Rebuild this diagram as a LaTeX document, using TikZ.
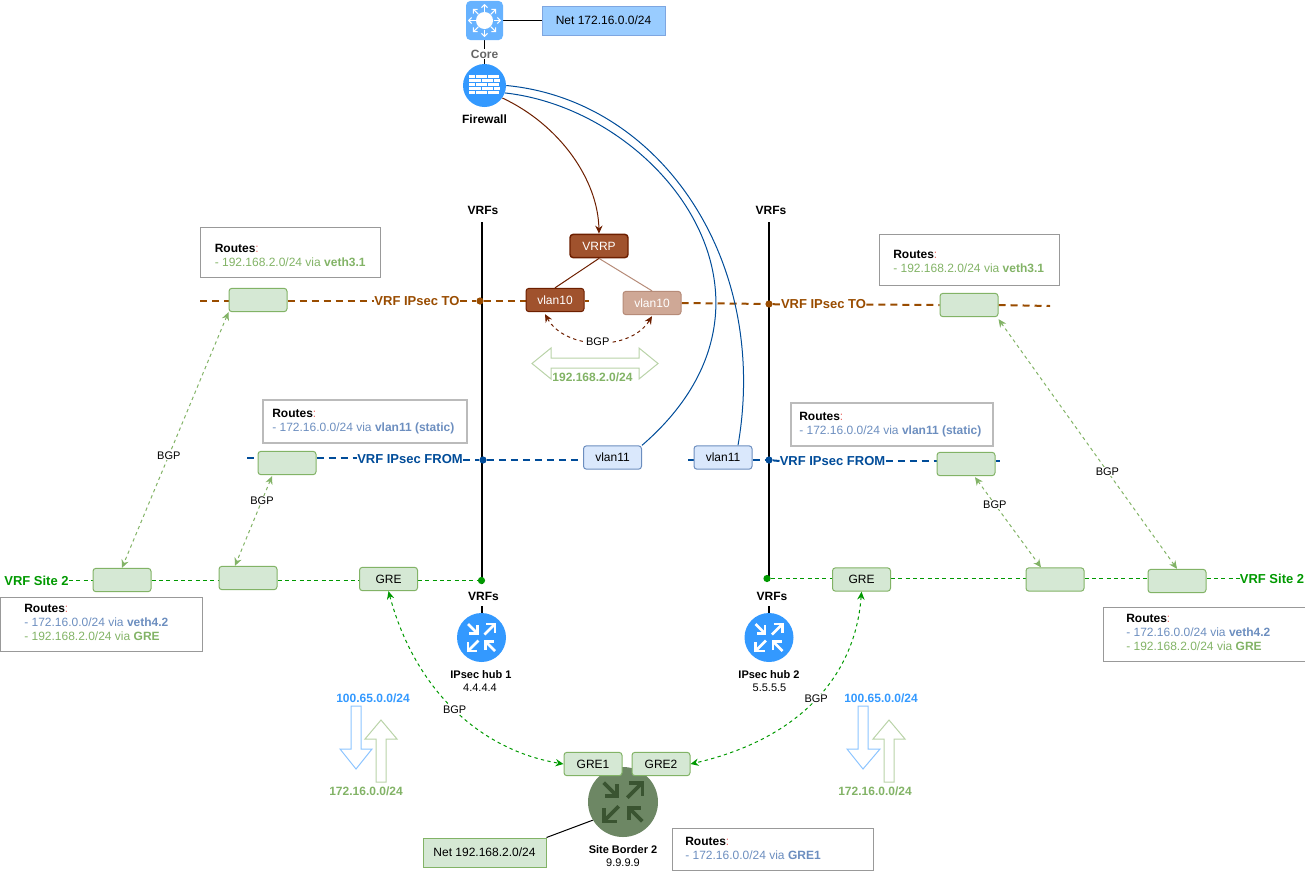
\documentclass[tikz,border=0pt]{standalone}
\usepackage{fontspec}
\setmainfont{Liberation Sans}
\usetikzlibrary{backgrounds,calc,arrows.meta}
\definecolor{gfill}{HTML}{D5E8D4}
\definecolor{gline}{HTML}{82B366}
\definecolor{dgreen}{HTML}{009900}
\definecolor{bline}{HTML}{004C99}
\definecolor{brline}{HTML}{994C00}
\definecolor{vfill}{HTML}{A0522D}
\definecolor{vline}{HTML}{6D1F00}
\definecolor{vlfill}{HTML}{CFA896}
\definecolor{vlline}{HTML}{B68B78}
\definecolor{bfill}{HTML}{DAE8FC}
\definecolor{bstroke}{HTML}{6C8EBF}
\definecolor{hubblue}{HTML}{3399FF}
\definecolor{sitefill}{HTML}{6D8764}
\definecolor{siteicon}{HTML}{3A5431}
\definecolor{netblue}{HTML}{99CCFF}
\definecolor{netline}{HTML}{7EA6E0}
\definecolor{corefill}{HTML}{66B2FF}
\definecolor{rtgray}{HTML}{999999}
\definecolor{rtlight}{HTML}{BBBBBB}
\definecolor{colonred}{HTML}{EA6B66}
\definecolor{greyt}{HTML}{666666}
\definecolor{arrowgreen}{HTML}{B9D3A8}
\definecolor{arrowblue}{HTML}{8CC4FF}
\newcommand{\fntA}{\fontsize{9}{10.5}\selectfont}
\newcommand{\fntB}{\fontsize{8.25}{9.75}\selectfont}
\newcommand{\fntC}{\fontsize{9.75}{11}\selectfont\bfseries}
\newcommand{\routericon}[4]{%
\begin{scope}[shift={(#1,#2)},scale=#3,line width=#3*1.9pt,#4,line cap=butt,line join=miter]
 \draw (-13.5,-13.5) -- (-4.5,-4.5); \draw (-4,-12.5) -- (-4,-4) -- (-12.5,-4);
 \draw (3,-3) -- (12.5,-12.5); \draw (4.5,-13.5) -- (13.5,-13.5) -- (13.5,-4.5);
 \draw (-3,3) -- (-12.5,12.5); \draw (-13.5,4.5) -- (-13.5,13.5) -- (-4.5,13.5);
 \draw (13.5,13.5) -- (4.5,4.5); \draw (4,12.5) -- (4,4) -- (12.5,4);
\end{scope}}
\newcommand{\RT}[1]{\textbf{\textcolor{black}{Routes}}\textcolor{colonred}{:}\\#1}
\newcommand{\BL}[1]{\textcolor{bstroke}{#1}}
\newcommand{\GL}[1]{\textcolor{gline}{#1}}
\tikzset{
 every node/.style={font=\fntA,text=black},
 gbox/.style={draw=gline,fill=gfill,line width=.75pt,rounded corners=2.2pt,minimum width=43.5pt,minimum height=17.5pt,inner sep=0pt},
 vbox/.style={draw=bstroke,fill=bfill,line width=.75pt,rounded corners=2.2pt,minimum width=43.5pt,minimum height=17.5pt,inner sep=0pt},
 brbox/.style={draw=vline,fill=vfill,text=white,line width=.75pt,rounded corners=2.2pt,minimum width=43.5pt,minimum height=17.5pt,inner sep=0pt},
 brlight/.style={draw=vlline,fill=vlfill,text=white,line width=.75pt,rounded corners=2.2pt,minimum width=43.5pt,minimum height=17.5pt,inner sep=0pt},
 rtbox/.style={draw=rtgray,line width=.75pt,inner sep=0pt},
 rtboxb/.style={draw=rtlight,line width=1.5pt,inner sep=0pt},
 rttext/.style={anchor=west,align=left,inner sep=0pt},
 vrfto/.style={font=\fntC,text=brline,fill=white,inner sep=0pt},
 vrffrom/.style={font=\fntC,text=bline,fill=white,inner sep=0pt},
 vrfsite/.style={font=\fntC,text=dgreen,fill=white,inner sep=0pt},
 boldlab/.style={font=\fntA\bfseries,inner sep=0pt},
 small/.style={font=\fntB,inner sep=0pt},
 smallb/.style={font=\fntB\bfseries,inner sep=0pt},
 dot/.style={circle,inner sep=0pt,minimum size=5.4pt},
 toline/.style={draw=brline,line width=1.5pt,dash pattern=on 5.25pt off 3.75pt},
 fromline/.style={draw=bline,line width=1.5pt,dash pattern=on 5.25pt off 3.75pt},
 siteline/.style={draw=dgreen,line width=.75pt,dash pattern=on 3pt off 2.5pt},
 bgplight/.style={draw=gline,line width=.75pt,dash pattern=on 2.5pt off 2.5pt,{Stealth[length=6pt,width=5.5pt,gline]}-{Stealth[length=6pt,width=5.5pt,gline]}},
 bgpdark/.style={draw=dgreen,line width=.75pt,dash pattern=on 2.5pt off 2.5pt,{Stealth[length=6pt,width=5.5pt,dgreen]}-{Stealth[length=6pt,width=5.5pt,dgreen]}},
 bgpbrown/.style={draw=vline,line width=.75pt,dash pattern=on 2.5pt off 2.5pt,{Stealth[length=6pt,width=5.5pt,vline]}-{Stealth[length=6pt,width=5.5pt,vline]}},
 bgplab/.style={font=\fntB,fill=white,inner sep=.6pt},
 vrfbar/.style={draw=black,line width=1.5pt},
 blockg/.style={draw=arrowgreen,line width=.75pt},
 blockb/.style={draw=arrowblue,line width=.75pt},
}
\begin{document}
\begin{tikzpicture}[x=0.75pt,y=-0.75pt]
\useasboundingbox (0,0) rectangle (1305,893);

% core and firewall
\node[draw=none,fill=corefill,rounded corners=3.5pt,minimum width=27.75pt,minimum height=29.5pt,inner sep=0pt] (core) at (484.5,20.5) {};
\fill[white] (484.5,20.5) circle (8.5);
\foreach \a in {0,45,...,315}{
 \draw[white,line width=.8pt,-{Straight Barb[length=2.2pt,width=4.5pt]}] ($(484.5,20.5)+(\a:9)$) -- ($(484.5,20.5)+(\a:16.5)$);
}
\node[font=\fntA\bfseries,text=greyt,fill=white,inner sep=.5pt] (corelab) at (484.5,54) {Core};
\node[draw=netline,fill=netblue,line width=.75pt,minimum width=92.25pt,minimum height=21.75pt,inner sep=0pt] (net1) at (603.5,20.5) {Net 172.16.0.0/24};
\node[circle,fill=hubblue,minimum size=32.25pt,inner sep=0pt] (fw) at (484.5,85.5) {};
\fill[white] (469,75) rectangle (500,94);
\foreach \y in {78.7,82.4,86.1,89.8}{\draw[hubblue,line width=.4pt] (469,\y) -- (500,\y);}
\foreach \x in {475,487,499}{
 \draw[hubblue,line width=.4pt] (\x,75) -- (\x,78.7);
 \draw[hubblue,line width=.4pt] (\x,82.4) -- (\x,86.1);
 \draw[hubblue,line width=.4pt] (\x,89.8) -- (\x,94);
}
\foreach \x in {481,493}{
 \draw[hubblue,line width=.4pt] (\x,78.7) -- (\x,82.4);
 \draw[hubblue,line width=.4pt] (\x,86.1) -- (\x,89.8);
}
\node[boldlab] (fwlab) at (484.5,119.5) {Firewall};

% VRF labels and coordinates
\node[boldlab] (vrf1) at (483,210) {VRFs};
\node[boldlab] (vrf2) at (771,210) {VRFs};
\node[boldlab] (vrf3) at (483.5,596.5) {VRFs};
\node[boldlab] (vrf4) at (772,596.5) {VRFs};
\coordinate (top1) at (481.5,222);
\coordinate (top2) at (769,222);
\coordinate (bot1) at (481.5,584);
\coordinate (bot2) at (769,581);
\coordinate (low1) at (481.5,606);
\coordinate (low2) at (769,606);
\coordinate (rTO) at (0,301);
\coordinate (rFa) at (0,459.5);
\coordinate (rSa) at (0,580.5);
\coordinate (rSb) at (0,578.5);

% hubs
\node[circle,fill=hubblue,minimum size=36.75pt,inner sep=0pt] (hub1) at (481.5,637.5) {};
\node[circle,fill=hubblue,minimum size=36.75pt,inner sep=0pt] (hub2) at (769,637.5) {};
\routericon{481.5}{637.5}{1}{white}
\routericon{769}{637.5}{1}{white}
\node[smallb] (hub1a) at (481,675) {IPsec hub 1};
\node[small] (hub1b) at (480,688) {4.4.4.4};
\node[smallb] (hub2a) at (769,675) {IPsec hub 2};
\node[small] (hub2b) at (769.5,688) {5.5.5.5};

% site border
\node[circle,fill=sitefill,minimum size=52.5pt,inner sep=0pt] (site) at (623,802) {};
\routericon{623}{802}{1.43}{siteicon}
\node[smallb] (sitea) at (623,850) {Site Border 2};
\node[small] (siteb) at (623,863) {9.9.9.9};
\node[gbox] (gre1) at (593,764) {GRE1};
\node[gbox] (gre2) at (661,764) {GRE2};
\node[draw=gline,fill=gfill,line width=.75pt,minimum width=92.25pt,minimum height=21.75pt,inner sep=0pt] (net2) at (484.5,852.5) {Net 192.168.2.0/24};

% VRF IPsec TO row
\coordinate (toL) at (200,301);
\coordinate (toRend) at (1050,306);
\coordinate (toMid) at (589,301);
\node[gbox] (bTOa) at (258,300) {};
\node[vrfto] (lTOa) at (417,301) {VRF IPsec TO};
\node[dot,fill=brline] (dTOa) at (480,301) {};
\node[brbox] (v10a) at (555,300) {vlan10};
\node[brlight] (v10b) at (652,303) {vlan10};
\node[dot,fill=brline] (dTOb) at (769,304) {};
\node[vrfto] (lTOb) at (823.5,304.5) {VRF IPsec TO};
\node[gbox] (bTOb) at (969,305) {};
\node[draw=vline,fill=vfill,text=white,line width=1.1pt,rounded corners=2.5pt,minimum width=43.5pt,minimum height=17.5pt,inner sep=0pt] (vrrp) at (599,246) {VRRP};

% VRF IPsec FROM row
\coordinate (frL) at (247,458);
\coordinate (frR) at (688,460);
\coordinate (frEnd) at (1000,461);
\node[gbox] (bFa) at (287,463) {};
\node[vrffrom] (lFa) at (410,459.5) {VRF IPsec FROM};
\node[dot,fill=bline] (dFa) at (483,460) {};
\node[vbox] (v11a) at (612.5,457.5) {vlan11};
\node[vbox] (v11b) at (723,457.5) {vlan11};
\node[dot,fill=bline] (dFb) at (769,460) {};
\node[vrffrom] (lFb) at (832.5,461) {VRF IPsec FROM};
\node[gbox] (bFb) at (966,464) {};

% VRF Site 2 row
\node[vrfsite] (lSa) at (36.5,580.5) {VRF Site 2};
\node[gbox] (bSa) at (122,580) {};
\node[gbox] (bSb) at (248,578) {};
\node[gbox] (greL) at (388.5,579) {GRE};
\node[dot,fill=dgreen] (dSa) at (481.5,580.5) {};
\node[dot,fill=dgreen] (dSb) at (767,578.5) {};
\node[gbox] (greR) at (861.5,579.5) {GRE};
\node[gbox] (bSc) at (1055,579.5) {};
\node[gbox] (bSd) at (1177,581) {};
\node[vrfsite] (lSb) at (1272,578.5) {VRF Site 2};

% routes boxes
\node[rtbox,minimum width=135pt,minimum height=37.5pt] (r1) at (290,252) {};
\node[rttext] (r1t) at (214.5,255) {\RT{\GL{- 192.168.2.0/24 via \textbf{veth3.1}}}};
\node[rtbox,minimum width=135pt,minimum height=38.25pt] (r2) at (969,259.5) {};
\node[rttext] (r2t) at (893,261) {\RT{\GL{- 192.168.2.0/24 via \textbf{veth3.1}}}};
\node[rtboxb,minimum width=153pt,minimum height=32.25pt] (r3) at (365,421.5) {};
\node[rttext] (r3t) at (272,422) {\RT{\BL{- 172.16.0.0/24 via \textbf{vlan11 (static)}}}};
\node[rtboxb,minimum width=151.5pt,minimum height=32.25pt] (r4) at (892,424.5) {};
\node[rttext] (r4t) at (799,425) {\RT{\BL{- 172.16.0.0/24 via \textbf{vlan11 (static)}}}};
\node[rtbox,minimum width=151.5pt,minimum height=40.5pt] (r5) at (101,624) {};
\node[rttext] (r5t) at (24,622.5) {\RT{\BL{- 172.16.0.0/24 via \textbf{veth4.2}}\\\GL{- 192.168.2.0/24 via \textbf{GRE}}}};
\node[rtbox,minimum width=151.5pt,minimum height=40.5pt] (r6) at (1204,634) {};
\node[rttext] (r6t) at (1126,632.5) {\RT{\BL{- 172.16.0.0/24 via \textbf{veth4.2}}\\\GL{- 192.168.2.0/24 via \textbf{GRE}}}};
\node[rtbox,minimum width=150.75pt,minimum height=31.5pt] (r7) at (772.5,849) {};
\node[rttext] (r7t) at (685,848) {\RT{\BL{- 172.16.0.0/24 via \textbf{GRE1}}}};

% block arrows
\draw[blockg] (532,363.5) -- (551,348) -- (551,358) -- (639,358) -- (639,348) -- (658,363.5) -- (639,379) -- (639,368) -- (551,368) -- (551,379) -- cycle;
\node[font=\fntA\bfseries,text=gline,fill=white,inner sep=0pt] (pfx) at (592.5,377) {192.168.2.0/24};
\draw[blockb] (351,706) -- (361,706) -- (361,749) -- (372,749) -- (356,769) -- (340,749) -- (351,749) -- cycle;
\draw[blockg] (376,782) -- (386,782) -- (386,739) -- (397,739) -- (381,720) -- (365,739) -- (376,739) -- cycle;
\draw[blockb] (858,706) -- (868,706) -- (868,749) -- (880,749) -- (863,769) -- (847,749) -- (858,749) -- cycle;
\draw[blockg] (884,782) -- (894,782) -- (894,739) -- (905,739) -- (889,720) -- (873,739) -- (884,739) -- cycle;
\node[font=\fntA\bfseries,text=hubblue,inner sep=0pt] (p1) at (373,698) {100.65.0.0/24};
\node[font=\fntA\bfseries,text=gline,inner sep=0pt] (p2) at (366,791) {172.16.0.0/24};
\node[font=\fntA\bfseries,text=hubblue,inner sep=0pt] (p3) at (881,698) {100.65.0.0/24};
\node[font=\fntA\bfseries,text=gline,inner sep=0pt] (p4) at (875,791) {172.16.0.0/24};

% connectors
\begin{scope}[on background layer]
 \draw[line width=.75pt] (core.east) -- (net1.west);
 \draw[line width=.75pt] (core.south) -- (fw.north);
 \draw[line width=.75pt] (net2.north east) -- (site.211);
 \draw[vrfbar] (top1) -- (bot1);
 \draw[vrfbar] (top2) -- (bot2);
 \draw[vrfbar] (low1) -- (hub1.north);
 \draw[vrfbar] (low2) -- (hub2.north);
 % TO
 \draw[toline] (toL) -- (bTOa.west |- rTO);
 \draw[toline] (bTOa.east |- rTO) -- (lTOa.west);
 \draw[toline] (lTOa.east) -- (dTOa);
 \draw[toline] (dTOa) -- (v10a.west |- rTO);
 \draw[toline] (v10a.east |- rTO) -- (toMid);
 \draw[toline] (v10b.east) -- (dTOb);
 \draw[toline] (dTOb) -- (lTOb.west);
 \draw[toline] (lTOb.east) -- (bTOb.west);
 \draw[toline] (bTOb.east) -- (toRend);
 % FROM
 \draw[fromline] (frL) -- (bFa.west |- frL);
 \draw[fromline] (bFa.east |- frL) -- (lFa.west |- frL);
 \draw[fromline] (lFa.east |- rFa) -- (dFa.west |- rFa);
 \draw[fromline] (dFa.east |- rFa) -- (v11a.west |- rFa);
 \draw[fromline] (frR) -- (v11b.west |- frR);
 \draw[fromline] (v11b.east |- frR) -- (dFb);
 \draw[fromline] (dFb) -- (lFb.west);
 \draw[fromline] (lFb.east) -- (bFb.west |- lFb.east);
 \draw[fromline] (bFb.east |- frEnd) -- (frEnd);
 % Site
 \draw[siteline] (lSa.east |- rSa) -- (bSa.west |- rSa);
 \draw[siteline] (bSa.east |- rSa) -- (bSb.west |- rSa);
 \draw[siteline] (bSb.east |- rSa) -- (greL.west |- rSa);
 \draw[siteline] (greL.east |- rSa) -- (dSa);
 \draw[siteline] (dSb) -- (greR.west |- rSb);
 \draw[siteline] (greR.east |- rSb) -- (bSc.west |- rSb);
 \draw[siteline] (bSc.east |- rSb) -- (bSd.west |- rSb);
 \draw[siteline] (bSd.east |- rSb) -- (lSb.west |- rSb);
 % firewall
 \draw[draw=bline,line width=.75pt] (fw.east) .. controls (660,100) and (770,260) .. ($(v11b.north)+(15,0)$);
 \draw[draw=bline,line width=.75pt] (fw.-20) .. controls (660,110) and (810,300) .. (v11a.north east);
 \draw[draw=vline,line width=.75pt,-{Stealth[length=6pt,width=5.5pt]}] (fw.-35) .. controls (560,125) and (598,180) .. (vrrp.north);
 \draw[draw=vline,line width=.75pt] (vrrp.south) -- (v10a.north);
 \draw[draw=vlline,line width=.75pt] (vrrp.south) -- (v10b.north);
\end{scope}

% BGP links
\draw[bgpbrown] ($(v10a.south)+(-10,2)$) .. controls (565,350) and (630,352) .. node[bgplab,pos=.5]{BGP} ($(v10b.south)+(0,1)$);
\draw[bgplight] (bTOa.south west) -- node[bgplab,pos=.56]{BGP} (bSa.north);
\draw[bgplight] ($(bFa.south)+(-15,1)$) -- node[bgplab,pos=.27]{BGP} ($(bSb.north)+(-13,0)$);
\draw[bgplight] ($(bTOb.south east)+(0,2)$) -- node[bgplab,pos=.61]{BGP} (bSd.north);
\draw[bgplight] ($(bFb.south)+(9,1)$) -- node[bgplab,pos=.3]{BGP} ($(bSc.north)+(-14,0)$);
\draw[bgpdark] (greL.south) .. controls (415,690) and (480,750) .. node[bgplab,pos=.5]{BGP} (gre1.west);
\draw[bgpdark] (greR.south) .. controls (855,680) and (795,740) .. node[bgplab,pos=.48]{BGP} (gre2.east);
\end{tikzpicture}
\end{document}
